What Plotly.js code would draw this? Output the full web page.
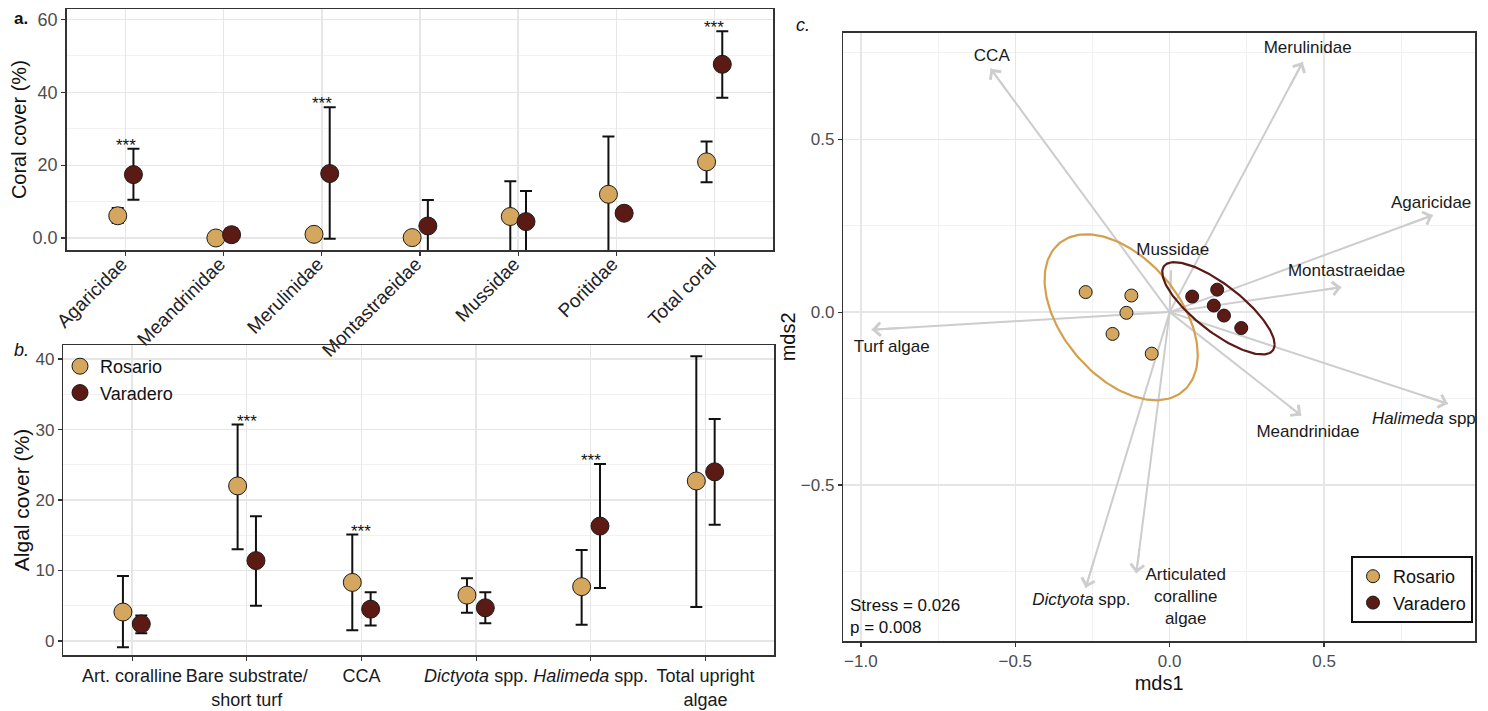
<!DOCTYPE html>
<html><head><meta charset="utf-8">
<script src="https://cdn.plot.ly/plotly-3.0.1.min.js"></script>
<style>html,body{margin:0;padding:0;background:#fff}#chart{width:1488px;height:711px}</style>
</head><body><div id="chart"></div>
<script>
// ---------- Panel a: coral cover ----------
const coralFamilies = ['Agaricidae','Meandrinidae','Merulinidae','Montastraeidae','Mussidae','Poritidae','Total coral'];
const coralRosarioMean  = [6.1, 0.0, 1.0, 0.1, 5.9, 12.0, 20.9];
const coralRosarioLow   = [4.1, 0.0, 0.2, 0.0, -3.8, -3.9, 15.3];
const coralRosarioHigh  = [8.2, 0.0, 1.8, 0.3, 15.6, 27.9, 26.5];
const coralVaraderoMean = [17.4, 0.9, 17.7, 3.3, 4.5, 6.8, 47.7];
const coralVaraderoLow  = [10.5, -0.9, -0.2, -3.8, -3.9, 5.4, 38.5];
const coralVaraderoHigh = [24.5, 2.7, 35.9, 10.4, 12.9, 8.2, 56.8];
const coralSignif = ['***','','***','','','','***'];
const coralTickText = ['0.0','20','40','60'];

// ---------- Panel b: algal cover ----------
const algaeCategories = ['Art. coralline','Bare substrate/<br>short turf','CCA','<i>Dictyota</i> spp.','<i>Halimeda</i> spp.','Total upright<br>algae'];
const algaeRosarioMean  = [4.1, 22.0, 8.3, 6.5, 7.7, 22.7];
const algaeRosarioLow   = [-0.9, 13.0, 1.5, 4.0, 2.3, 4.8];
const algaeRosarioHigh  = [9.2, 30.7, 15.1, 8.9, 12.9, 40.4];
const algaeVaraderoMean = [2.4, 11.4, 4.5, 4.7, 16.3, 24.0];
const algaeVaraderoLow  = [1.1, 5.0, 2.2, 2.5, 7.5, 16.5];
const algaeVaraderoHigh = [3.6, 17.7, 6.9, 6.9, 25.1, 31.5];
const algaeSignif = ['','***','***','','***',''];

// ---------- Panel c: nMDS ----------
const nmdsRosarioX  = [-0.272, -0.124, -0.140, -0.185, -0.058];
const nmdsRosarioY  = [0.058, 0.048, -0.002, -0.063, -0.120];
const nmdsVaraderoX = [0.073, 0.154, 0.143, 0.176, 0.232];
const nmdsVaraderoY = [0.045, 0.065, 0.019, -0.010, -0.046];
const vectorLabels = ['CCA','Merulinidae','Agaricidae','Montastraeidae','Mussidae','Turf algae','<i>Halimeda</i> spp.','Meandrinidae','<i>Dictyota</i> spp.','Articulated<br>coralline<br>algae'];
const vectorX = [-0.580, 0.431, 0.852, 0.556, 0.005, -0.965, 0.901, 0.426, -0.272, -0.108];
const vectorY = [0.704, 0.723, 0.280, 0.072, 0.121, -0.051, -0.265, -0.299, -0.797, -0.755];
const labelX  = [-0.576, 0.447, 0.847, 0.573, 0.010, -0.900, 0.831, 0.448, -0.286, 0.052];
const labelY  = [0.738, 0.762, 0.314, 0.116, 0.178, -0.104, -0.310, -0.349, -0.834, -0.825];
// ellipse: centre x, centre y, var x, var y, cov xy
const ellipseRosario  = [-0.157, -0.015, 0.0615, 0.0576, -0.027];
const ellipseVaradero = [0.158, 0.011, 0.0331, 0.01782, -0.019];
const statsText = 'Stress = 0.026<br>p = 0.008';

// ---------- styling ----------
const W = 1488, H = 711;
const FONT = '"Liberation Sans", Arial, Helvetica, sans-serif';
const C_ROS = '#D5A65D', C_VAR = '#5C1A15';
const GRID = '#e6e6e6', GRID_MINOR = '#f1f1f1';
const DODGE = 0.08;

function errTrace(means, lows, highs, off, color, name, xa, ya, showleg, leg){
  return {
    type:'scatter', mode:'markers', name:name,
    x: means.map((_, i) => i + off), y: means,
    xaxis: xa, yaxis: ya, showlegend: showleg, legend: leg || 'legend',
    marker:{size:18, color:color, line:{color:'#1a1a1a', width:1}},
    error_y:{type:'data', symmetric:false,
      array: highs.map((h, i) => h - means[i]),
      arrayminus: lows.map((l, i) => means[i] - l),
      color:'#111', thickness:2, width:6},
    hoverinfo:'skip'
  };
}

function ellipsePts(p){
  const [cx, cy, sxx, syy, sxy] = p;
  const l11 = Math.sqrt(sxx), l21 = sxy / l11, l22 = Math.sqrt(syy - l21 * l21);
  const xs = [], ys = [];
  for(let i = 0; i <= 180; i++){
    const t = 2 * Math.PI * i / 180, u = Math.cos(t), v = Math.sin(t);
    xs.push(cx + l11 * u); ys.push(cy + l21 * u + l22 * v);
  }
  return {xs, ys};
}

const traces = [];
// panel a
traces.push(errTrace(coralRosarioMean, coralRosarioLow, coralRosarioHigh, -DODGE, C_ROS, 'Rosario', 'x', 'y', false));
traces.push(errTrace(coralVaraderoMean, coralVaraderoLow, coralVaraderoHigh, DODGE, C_VAR, 'Varadero', 'x', 'y', false));
// panel b
traces.push(errTrace(algaeRosarioMean, algaeRosarioLow, algaeRosarioHigh, -DODGE, C_ROS, 'Rosario', 'x2', 'y2', true, 'legend'));
traces.push(errTrace(algaeVaraderoMean, algaeVaraderoLow, algaeVaraderoHigh, DODGE, C_VAR, 'Varadero', 'x2', 'y2', true, 'legend'));

// panel c arrow shafts
const shaftX = [], shaftY = [];
vectorX.forEach((vx, i) => { shaftX.push(0, vx, null); shaftY.push(0, vectorY[i], null); });
traces.push({type:'scatter', mode:'lines', x:shaftX, y:shaftY, xaxis:'x3', yaxis:'y3',
  line:{color:'#cdcdcd', width:2}, showlegend:false, hoverinfo:'skip'});
// ellipses
const eR = ellipsePts(ellipseRosario), eV = ellipsePts(ellipseVaradero);
traces.push({type:'scatter', mode:'lines', x:eR.xs, y:eR.ys, xaxis:'x3', yaxis:'y3',
  line:{color:'#D4A04E', width:2.2}, showlegend:false, hoverinfo:'skip'});
traces.push({type:'scatter', mode:'lines', x:eV.xs, y:eV.ys, xaxis:'x3', yaxis:'y3',
  line:{color:'#5C1A15', width:2.2}, showlegend:false, hoverinfo:'skip'});
// points
traces.push({type:'scatter', mode:'markers', name:'Rosario', x:nmdsRosarioX, y:nmdsRosarioY, xaxis:'x3', yaxis:'y3',
  marker:{size:13, color:C_ROS, line:{color:'#1a1a1a', width:1}}, legend:'legend2', showlegend:true, hoverinfo:'skip'});
traces.push({type:'scatter', mode:'markers', name:'Varadero', x:nmdsVaraderoX, y:nmdsVaraderoY, xaxis:'x3', yaxis:'y3',
  marker:{size:13, color:C_VAR, line:{color:'#1a1a1a', width:1}}, legend:'legend2', showlegend:true, hoverinfo:'skip'});
// vector labels
traces.push({type:'scatter', mode:'text', x:labelX, y:labelY, text:vectorLabels, xaxis:'x3', yaxis:'y3',
  textposition:'middle center', textfont:{family:FONT, size:17, color:'#1a1a1a'}, cliponaxis:true,
  showlegend:false, hoverinfo:'skip'});

const annotations = [];
// arrow heads
vectorX.forEach((vx, i) => {
  const vy = vectorY[i];
  annotations.push({xref:'x3', yref:'y3', axref:'x3', ayref:'y3', x:vx, y:vy, ax:vx * 0.9, ay:vy * 0.9,
    text:'', showarrow:true, arrowhead:4, arrowsize:1.3, arrowwidth:2, arrowcolor:'#cdcdcd', standoff:0});
});
// significance stars
coralSignif.forEach((s, i) => { if(s) annotations.push({xref:'x', yref:'y', x:i, y:Math.max(coralRosarioHigh[i], coralVaraderoHigh[i]),
  text:s, showarrow:false, yanchor:'bottom', yshift:-8, font:{family:FONT, size:17, color:'#111'}}); });
algaeSignif.forEach((s, i) => { if(s) annotations.push({xref:'x2', yref:'y2', x:i, y:Math.max(algaeRosarioHigh[i], algaeVaraderoHigh[i]),
  text:s, showarrow:false, yanchor:'bottom', yshift:-8, font:{family:FONT, size:17, color:'#111'}}); });
// stats text
annotations.push({xref:'x3', yref:'y3', x:-1.042, y:-0.881, text:statsText, showarrow:false, xanchor:'left', align:'left',
  font:{family:FONT, size:17, color:'#111'}});
// panel letters
annotations.push({xref:'paper', yref:'paper', x:12/W, y:1 - 18/H, text:'<b>a.</b>', showarrow:false, xanchor:'left', yanchor:'middle', font:{family:FONT, size:17, color:'#111'}});
annotations.push({xref:'paper', yref:'paper', x:12/W, y:1 - 350/H, text:'<i>b.</i>', showarrow:false, xanchor:'left', yanchor:'middle', font:{family:FONT, size:18, color:'#111'}});
annotations.push({xref:'paper', yref:'paper', x:794/W, y:1 - 25/H, text:'<i>c.</i>', showarrow:false, xanchor:'left', yanchor:'middle', font:{family:FONT, size:18, color:'#111'}});

function frame(extra){
  return Object.assign({showline:true, mirror:true, linecolor:'#333', linewidth:1.5,
    ticks:'outside', ticklen:4, tickcolor:'#333', tickwidth:1.2,
    showgrid:true, gridcolor:GRID, gridwidth:1.3, zeroline:false,
    tickfont:{family:FONT, size:17, color:'#4d4d4d'}}, extra);
}

const layout = {
  width:W, height:H, margin:{l:0, r:0, t:0, b:0},
  paper_bgcolor:'#fff', plot_bgcolor:'#fff',
  font:{family:FONT, color:'#111'},
  xaxis: frame({domain:[66.7/W, 773.3/W], range:[-0.6, 6.6], anchor:'y',
    tickvals:coralFamilies.map((_, i) => i), ticktext:coralFamilies, tickangle:-45,
    ticklabelstandoff:-10, ticklabelshift:-4,
    tickfont:{family:FONT, size:19, color:'#222'}}),
  yaxis: frame({domain:[1 - 250/H, 1 - 9.3/H], range:[-3.3, 62.8], anchor:'x',
    tickvals:[0, 20, 40, 60], ticktext:coralTickText,
    tickfont:{family:FONT, size:18, color:'#4d4d4d'},
    minor:{tickvals:[10, 30, 50], showgrid:true, gridcolor:GRID_MINOR, gridwidth:1.1, ticks:''},
    title:{text:'Coral cover (%)', font:{family:FONT, size:20, color:'#111'}, standoff:0}}),
  xaxis2: frame({domain:[63.3/W, 774.3/W], range:[-0.6, 5.6], anchor:'y2',
    tickvals:algaeCategories.map((_, i) => i), ticktext:algaeCategories, tickangle:0,
    tickfont:{family:FONT, size:18, color:'#1a1a1a'}}),
  yaxis2: frame({domain:[1 - 655/H, 1 - 345/H], range:[-2.0, 42.0], anchor:'x2',
    tickvals:[0, 10, 20, 30, 40],
    minor:{tickvals:[5, 15, 25, 35], showgrid:true, gridcolor:GRID_MINOR, gridwidth:1.1, ticks:''},
    title:{text:'Algal cover (%)', font:{family:FONT, size:21, color:'#111'}, standoff:0}}),
  xaxis3: frame({domain:[843.3/W, 1475/W], range:[-1.057, 0.989], anchor:'y3',
    tickvals:[-1, -0.5, 0, 0.5], tickformat:'.1f',
    minor:{tickvals:[-0.75, -0.25, 0.25, 0.75], showgrid:true, gridcolor:GRID_MINOR, gridwidth:1.1, ticks:''},
    title:{text:'mds1', font:{family:FONT, size:20, color:'#111'}, standoff:6}}),
  yaxis3: frame({domain:[1 - 641/H, 1 - 32.7/H], range:[-0.951, 0.808], anchor:'x3',
    tickvals:[-0.5, 0, 0.5], tickformat:'.1f',
    minor:{tickvals:[-0.75, -0.25, 0.25, 0.75], showgrid:true, gridcolor:GRID_MINOR, gridwidth:1.1, ticks:''},
    title:{text:'mds2', font:{family:FONT, size:20, color:'#111'}, standoff:0}}),
  legend:{x:60/W, y:1 - 348/H, xanchor:'left', yanchor:'top', bgcolor:'rgba(0,0,0,0)',
    font:{family:FONT, size:18, color:'#111'}, traceorder:'normal', tracegroupgap:0},
  legend2:{x:1473/W, y:1 - 623/H, xanchor:'right', yanchor:'bottom', bgcolor:'#fff',
    bordercolor:'#111', borderwidth:2,
    font:{family:FONT, size:18, color:'#111'}, traceorder:'normal'},
  annotations: annotations,
  showlegend:true
};

Plotly.newPlot('chart', traces, layout, {displayModeBar:false, staticPlot:true});
</script>
</body></html>
